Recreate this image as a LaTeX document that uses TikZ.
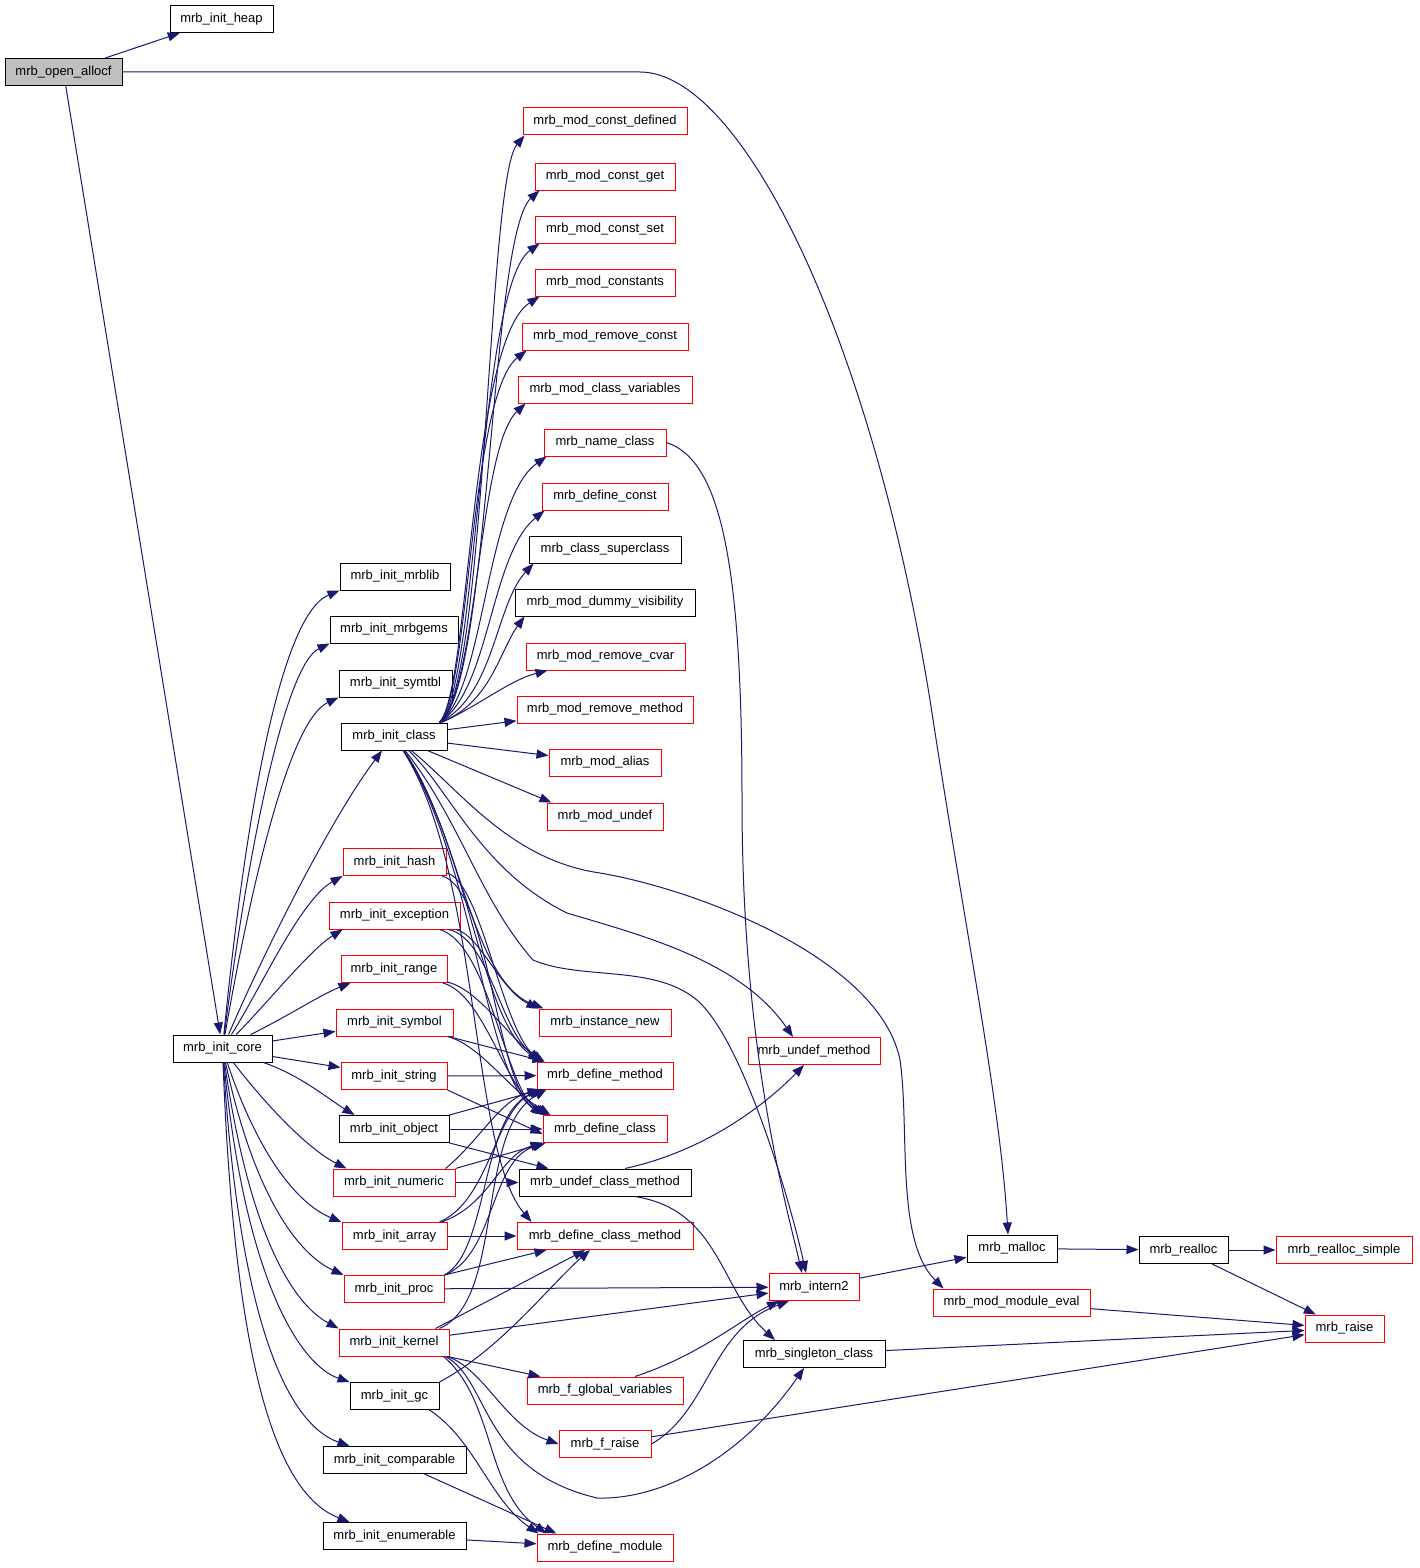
\documentclass[tikz,border=0pt]{standalone}
\usepackage{fontspec}
\setmainfont{Liberation Sans}
\usetikzlibrary{arrows.meta}
\definecolor{edgec}{HTML}{191970}
\definecolor{redb}{HTML}{FF0000}
\definecolor{grayfill}{HTML}{BFBFBF}
\begin{document}
\begin{tikzpicture}[x=1pt,y=-1pt,
  box/.style={draw, line width=1pt, minimum height=27pt, inner sep=2pt, font=\fontsize{13}{15}\selectfont, fill=white},
  rbox/.style={box, draw=redb},
  bbox/.style={box, draw=black},
  e/.style={draw=edgec, line width=1pt, -{Triangle[length=12pt,width=9pt]}}]
\useasboundingbox[fill=white] (0,0) rectangle (1419,1568);

% left column
\node[bbox, fill=grayfill, minimum width=117pt] (open) at (63.5,72) {mrb\_open\_allocf};
\node[bbox, minimum width=103pt] (heap) at (221.5,19) {mrb\_init\_heap};
\node[bbox, minimum width=99pt] (core) at (222.5,1048.5) {mrb\_init\_core};
% init column
\node[bbox, minimum width=110pt] (mrblib) at (395,576.5) {mrb\_init\_mrblib};
\node[bbox, minimum width=128pt] (mrbgems) at (394,629.5) {mrb\_init\_mrbgems};
\node[bbox, minimum width=113pt] (symtbl) at (395.5,683.5) {mrb\_init\_symtbl};
\node[bbox, minimum width=106pt] (iclass) at (394,736.5) {mrb\_init\_class};
\node[rbox, minimum width=103pt] (ihash) at (394.5,862) {mrb\_init\_hash};
\node[rbox, minimum width=131pt] (iexc) at (394.5,915.5) {mrb\_init\_exception};
\node[rbox, minimum width=106pt] (irange) at (394,969) {mrb\_init\_range};
\node[rbox, minimum width=117pt] (isym) at (394.5,1022.5) {mrb\_init\_symbol};
\node[rbox, minimum width=106pt] (istr) at (394,1076) {mrb\_init\_string};
\node[bbox, minimum width=110pt] (iobj) at (394,1129) {mrb\_init\_object};
\node[rbox, minimum width=122pt] (inum) at (394,1182.5) {mrb\_init\_numeric};
\node[rbox, minimum width=105pt] (iarr) at (394.5,1236) {mrb\_init\_array};
\node[rbox, minimum width=100pt] (iproc) at (394,1289) {mrb\_init\_proc};
\node[rbox, minimum width=110pt] (ikern) at (394,1342.5) {mrb\_init\_kernel};
\node[bbox, minimum width=89pt] (igc) at (394.5,1396) {mrb\_init\_gc};
\node[bbox, minimum width=143pt] (icomp) at (394.5,1460) {mrb\_init\_comparable};
\node[bbox, minimum width=143pt] (ienum) at (394.5,1536) {mrb\_init\_enumerable};
% middle column
\node[rbox, minimum width=164pt] (mcd) at (605,121.5) {mrb\_mod\_const\_defined};
\node[rbox, minimum width=140pt] (mcg) at (605,176.5) {mrb\_mod\_const\_get};
\node[rbox, minimum width=140pt] (mcs) at (605,229.5) {mrb\_mod\_const\_set};
\node[rbox, minimum width=140pt] (mcons) at (605,282.5) {mrb\_mod\_constants};
\node[rbox, minimum width=166pt] (mrc) at (605,336.5) {mrb\_mod\_remove\_const};
\node[rbox, minimum width=174pt] (mcv) at (605,389.5) {mrb\_mod\_class\_variables};
\node[rbox, minimum width=122pt] (nclass) at (605,442.5) {mrb\_name\_class};
\node[rbox, minimum width=126pt] (dconst) at (605,496.5) {mrb\_define\_const};
\node[bbox, minimum width=152pt] (csuper) at (605,549.5) {mrb\_class\_superclass};
\node[bbox, minimum width=180pt] (mdv) at (605,602.5) {mrb\_mod\_dummy\_visibility};
\node[rbox, minimum width=159pt] (mrcvar) at (605.5,656.5) {mrb\_mod\_remove\_cvar};
\node[rbox, minimum width=176pt] (mrm) at (605,709.5) {mrb\_mod\_remove\_method};
\node[rbox, minimum width=112pt] (malias) at (605,762.5) {mrb\_mod\_alias};
\node[rbox, minimum width=116pt] (mundef) at (605,816.5) {mrb\_mod\_undef};
\node[rbox, minimum width=132pt] (inew) at (605,1022.5) {mrb\_instance\_new};
\node[rbox, minimum width=136pt] (dmethod) at (605,1075.5) {mrb\_define\_method};
\node[rbox, minimum width=124pt] (dclass) at (605,1129) {mrb\_define\_class};
\node[bbox, minimum width=172pt] (ucm) at (605,1182.5) {mrb\_undef\_class\_method};
\node[rbox, minimum width=176pt] (dcm) at (605,1236) {mrb\_define\_class\_method};
\node[rbox, minimum width=156pt] (fgv) at (605,1390.5) {mrb\_f\_global\_variables};
\node[rbox, minimum width=92pt] (fraise) at (605,1444) {mrb\_f\_raise};
\node[rbox, minimum width=136pt] (dmodule) at (605,1547.5) {mrb\_define\_module};
% right part
\node[rbox, minimum width=132pt] (umethod) at (814,1051) {mrb\_undef\_method};
\node[rbox, minimum width=90pt] (intern) at (814,1287) {mrb\_intern2};
\node[bbox, minimum width=142pt] (sclass) at (814,1354) {mrb\_singleton\_class};
\node[bbox, minimum width=90pt] (malloc) at (1012,1248.5) {mrb\_malloc};
\node[rbox, minimum width=157pt] (mme) at (1011.5,1302.5) {mrb\_mod\_module\_eval};
\node[bbox, minimum width=89pt] (realloc) at (1183.5,1250) {mrb\_realloc};
\node[rbox, minimum width=136pt] (rsimple) at (1344,1250) {mrb\_realloc\_simple};
\node[rbox, minimum width=79pt] (raise) at (1344.5,1328.5) {mrb\_raise};

% edges from mrb_open_allocf
\draw[e] (open) -- (heap);
\draw[e] (open) -- (core);
\draw[e] (open.east) -- (640,72) .. controls (740,72) and (870,330) .. (930,700) .. controls (965,930) and (1000,1100) .. ([xshift=-4pt]malloc.north);

% edges from mrb_init_core
\draw[e] (core) .. controls (245,820) and (280,615) .. (mrblib.south west);
\draw[e] (core) .. controls (248,850) and (285,665) .. (mrbgems.south west);
\draw[e] (core) .. controls (252,880) and (290,720) .. (symtbl.south west);
\draw[e] (core) .. controls (265,950) and (330,820) .. ([xshift=-12pt]iclass.south);
\draw[e] (core) .. controls (260,990) and (300,900) .. (ihash.south west);
\draw[e] (core) .. controls (270,1000) and (310,950) .. ([xshift=14pt]iexc.south west);
\draw[e] (core) .. controls (290,1015) and (320,995) .. ([xshift=10pt]irange.south west);
\draw[e] (core) -- (isym);
\draw[e] (core) -- (istr);
\draw[e] (core) .. controls (300,1075) and (330,1100) .. ([xshift=16pt]iobj.north west);
\draw[e] (core) .. controls (270,1110) and (310,1150) .. ([xshift=14pt]inum.north west);
\draw[e] (core) .. controls (260,1160) and (300,1205) .. (iarr.north west);
\draw[e] (core) .. controls (255,1200) and (300,1255) .. (iproc.north west);
\draw[e] (core) .. controls (250,1240) and (295,1305) .. (ikern.north west);
\draw[e] (core) .. controls (245,1280) and (300,1365) .. (igc.north west);
\draw[e] (core) .. controls (240,1330) and (290,1425) .. ([xshift=27pt]icomp.north west);
\draw[e] (core) .. controls (235,1380) and (280,1495) .. ([xshift=27pt]ienum.north west);

% edges from mrb_init_class upward
\draw[e] ([xshift=-8pt]iclass.north east) .. controls (487,690) and (487,180) .. ([xshift=2pt]mcd.south west);
\draw[e] ([xshift=-8pt]iclass.north east) .. controls (490,690) and (490,235) .. ([xshift=5pt]mcg.south west);
\draw[e] ([xshift=-8pt]iclass.north east) .. controls (478,690) and (478,288) .. ([xshift=5pt]mcs.south west);
\draw[e] ([xshift=-8pt]iclass.north east) .. controls (470,690) and (470,341) .. ([xshift=5pt]mcons.south west);
\draw[e] ([xshift=-8pt]iclass.north east) .. controls (470,690) and (470,395) .. ([xshift=5pt]mrc.south west);
\draw[e] ([xshift=-8pt]iclass.north east) .. controls (478,690) and (478,448) .. ([xshift=8pt]mcv.south west);
\draw[e] ([xshift=-8pt]iclass.north east) .. controls (485,690) and (485,500) .. ([xshift=3pt]nclass.south west);
\draw[e] ([xshift=-8pt]iclass.north east) .. controls (490,690) and (490,555) .. ([xshift=3pt]dconst.south west);
\draw[e] ([xshift=-8pt]iclass.north east) .. controls (495,695) and (495,605) .. ([xshift=5pt]csuper.south west);
\draw[e] ([xshift=-8pt]iclass.north east) .. controls (490,705) and (500,650) .. ([xshift=10pt]mdv.south west);
\draw[e] ([xshift=-6pt]iclass.north east) .. controls (480,705) and (510,680) .. ([xshift=22pt]mrcvar.south west);
\draw[e] (iclass) -- (mrm);
\draw[e] (iclass) -- (malias);
\draw[e] (iclass) -- ([xshift=5pt]mundef.north west);

% edges from mrb_init_class downward
\draw[e] (iclass) .. controls (460,790) and (510,860) .. (600,873) .. controls (700,890) and (880,960) .. (900,1060) .. controls (910,1130) and (895,1240) .. ([xshift=-68pt]mme.north);
\draw[e] (iclass) .. controls (450,790) and (480,870) .. (567,913) .. controls (640,935) and (740,960) .. ([xshift=-21pt]umethod.north);
\draw[e] (iclass) .. controls (460,820) and (480,900) .. (533,960) .. controls (580,980) and (650,965) .. (693,997) .. controls (740,1030) and (790,1200) .. ([xshift=-8pt]intern.north);
\draw[e] (iclass) .. controls (460,830) and (470,980) .. ([xshift=5pt]inew.north west);
\draw[e] (iclass) .. controls (470,850) and (480,1020) .. ([xshift=4pt]dmethod.north west);
\draw[e] (iclass) .. controls (475,860) and (485,1080) .. ([xshift=2pt]dclass.north west);
\draw[e] (iclass) .. controls (480,870) and (470,1150) .. ([xshift=15pt]dcm.north west);

% name_class -> intern2
\draw[e] (nclass.east) .. controls (720,460) and (742,560) .. (742,800) .. controls (742,1050) and (785,1200) .. ([xshift=-12pt]intern.north);

% init_* -> define_*
\draw[e] (ihash) .. controls (480,880) and (500,1020) .. ([xshift=3pt]dmethod.north west);
\draw[e] (ihash) .. controls (490,890) and (495,1080) .. (dclass.north west);
\draw[e] (iexc) .. controls (480,935) and (500,990) .. (inew.north west);
\draw[e] (iexc) .. controls (490,940) and (500,1030) .. ([xshift=5pt]dmethod.north west);
\draw[e] (iexc) .. controls (490,945) and (505,1090) .. ([xshift=4pt]dclass.north west);
\draw[e] (irange) .. controls (480,990) and (510,1040) .. ([xshift=8pt]dmethod.north west);
\draw[e] (irange) .. controls (485,995) and (505,1090) .. ([xshift=6pt]dclass.north west);
\draw[e] (isym) -- ([xshift=8pt]dmethod.north west);
\draw[e] (isym) .. controls (480,1045) and (510,1090) .. ([xshift=8pt]dclass.north west);
\draw[e] (istr) -- (dmethod);
\draw[e] (istr.south east) -- ([yshift=-5pt]dclass.west);
\draw[e] (iobj.north east) -- ([xshift=5pt]dmethod.south west);
\draw[e] (iobj) -- (dclass);
\draw[e] (iobj.south east) -- ([xshift=30pt]ucm.north west);
\draw[e] ([xshift=-10pt]inum.north east) .. controls (480,1140) and (500,1100) .. ([xshift=3pt]dmethod.south west);
\draw[e] (inum.north east) -- ([xshift=2pt]dclass.south west);
\draw[e] (inum) -- (ucm);
\draw[e] ([xshift=-8pt]iarr.north east) .. controls (490,1200) and (495,1110) .. ([xshift=5pt]dmethod.south west);
\draw[e] ([xshift=-6pt]iarr.north east) .. controls (490,1205) and (500,1155) .. (dclass.south west);
\draw[e] (iarr) -- (dcm);
\draw[e] (iproc.north east) .. controls (490,1250) and (480,1110) .. ([xshift=8pt]dmethod.south west);
\draw[e] (iproc.north east) .. controls (495,1255) and (490,1160) .. ([xshift=3pt]dclass.south west);
\draw[e] (iproc.north east) -- ([xshift=30pt]dcm.south west);
\draw[e] (iproc) -- (intern);
\draw[e] ([xshift=-10pt]ikern.north east) .. controls (505,1300) and (475,1130) .. ([xshift=10pt]dmethod.south west);
\draw[e] ([xshift=-14pt]ikern.north east) -- ([xshift=-20pt]dcm.south);
\draw[e] (ikern) -- (intern);
\draw[e] ([xshift=-2pt]ikern.south east) -- ([xshift=14pt]fgv.north west);
\draw[e] ([xshift=-2pt]ikern.south east) .. controls (485,1370) and (505,1425) .. (fraise.west);
\draw[e] ([xshift=-6pt]ikern.south east) .. controls (495,1400) and (485,1490) .. ([xshift=10pt]dmodule.north west);
\draw[e] ([xshift=-4pt]ikern.south east) .. controls (490,1380) and (480,1470) .. (597,1498) .. controls (660,1500) and (740,1460) .. ([xshift=-10pt]sclass.south);
\draw[e] (igc.north east) .. controls (500,1350) and (550,1285) .. ([xshift=-15pt]dcm.south);
\draw[e] ([xshift=-10pt]igc.south east) .. controls (475,1440) and (490,1500) .. ([xshift=2pt]dmodule.north west);
\draw[e] ([xshift=30pt]icomp.south) -- ([xshift=20pt]dmodule.north west);
\draw[e] (ienum) -- (dmodule);

% right side
\draw[e] ([xshift=20pt]ucm.north) .. controls (710,1150) and (770,1100) .. ([xshift=-10pt]umethod.south);
\draw[e] ([xshift=30pt]ucm.south) .. controls (720,1210) and (720,1290) .. ([xshift=-39pt]sclass.north);
\draw[e] ([xshift=30pt]fgv.north) .. controls (700,1355) and (740,1320) .. ([xshift=-35pt]intern.south);
\draw[e] (fraise.east) .. controls (710,1410) and (710,1330) .. ([xshift=-25pt]intern.south);
\draw[e] (fraise) -- (raise);
\draw[e] (intern) -- (malloc);
\draw[e] (malloc) -- (realloc);
\draw[e] (realloc) -- (rsimple);
\draw[e] (realloc) -- (raise);
\draw[e] (mme) -- (raise);
\draw[e] (sclass) -- (raise);
\end{tikzpicture}
\end{document}
